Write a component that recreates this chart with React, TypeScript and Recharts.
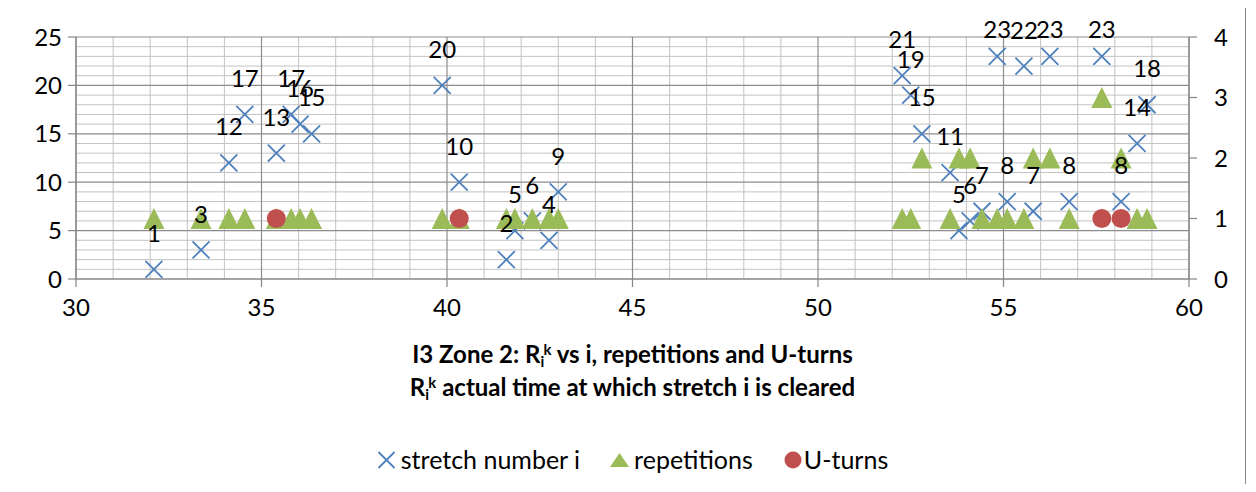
import React from 'react';
import { ScatterChart, Scatter, XAxis, YAxis, CartesianGrid, Legend } from 'recharts';

// time at which each stretch is cleared (x)
const times = [
  32.1, 33.37, 34.12, 34.55, 35.4, 35.8, 36.04, 36.35,
  39.87, 40.33, 41.6, 41.83, 42.3, 42.75, 43.0,
  52.27, 52.5, 52.8, 53.56, 53.8, 54.1, 54.42, 54.83, 55.1, 55.55, 55.8, 56.25, 56.77, 57.65, 58.17, 58.6, 58.87,
];
// stretch number i (left axis, also the data label)
const stretchNumbers = [
  1, 3, 12, 17, 13, 17, 16, 15,
  20, 10, 2, 5, 6, 4, 9,
  21, 19, 15, 11, 5, 6, 7, 23, 8, 22, 7, 23, 8, 23, 8, 14, 18,
];
// repetitions (right axis)
const repetitions = [
  1, 1, 1, 1, 1, 1, 1, 1,
  1, 1, 1, 1, 1, 1, 1,
  1, 1, 2, 1, 2, 2, 1, 1, 1, 1, 2, 2, 1, 3, 2, 1, 1,
];
// U-turns (right axis)
const uTurnTimes = [35.4, 40.33, 57.65, 58.17];
const uTurnValues = [1, 1, 1, 1];

const xTicks = [30, 35, 40, 45, 50, 55, 60];
const leftTicks = [0, 5, 10, 15, 20, 25];
const rightTicks = [0, 1, 2, 3, 4];
const minorX = [31, 32, 33, 34, 36, 37, 38, 39, 41, 42, 43, 44, 46, 47, 48, 49, 51, 52, 53, 54, 56, 57, 58, 59];
const minorY = [1, 2, 3, 4, 6, 7, 8, 9, 11, 12, 13, 14, 16, 17, 18, 19, 21, 22, 23, 24];

const stretchData = times.map((t, i) => ({ x: t, y: stretchNumbers[i] }));
const repData = times.map((t, i) => ({ x: t, y: repetitions[i] }));
const uTurnData = uTurnTimes.map((t, i) => ({ x: t, y: uTurnValues[i] }));

const BLUE = '#4F81BD';
const GREEN = '#9BBB59';
const RED = '#C0504D';
const FONT = 'Lato, "Open Sans", sans-serif';
const FS = 24;

const CrossShape = (props: any) => {
  const { cx, cy } = props;
  const h = 8.5;
  return (
    <path
      d={`M${cx - h},${cy - h}L${cx + h},${cy + h}M${cx + h},${cy - h}L${cx - h},${cy + h}`}
      stroke={BLUE}
      strokeWidth={1.8}
      fill="none"
    />
  );
};

const TriangleShape = (props: any) => {
  const { cx, cy } = props;
  const h = 10.5;
  return <path d={`M${cx},${cy - h}L${cx + h},${cy + h}L${cx - h},${cy + h}Z`} fill={GREEN} />;
};

const CircleShape = (props: any) => {
  const { cx, cy } = props;
  return <circle cx={cx} cy={cy} r={9.5} fill={RED} />;
};

const LabelShape = (props: any) => {
  const { cx, cy, payload } = props;
  // labels sit above the marker, kept inside the chart box near the top edge
  const ly = Math.max(cy - 36, 21);
  return (
    <text x={cx} y={ly} dy="0.36em" textAnchor="middle" fontSize={FS} fontFamily={FONT} fill="#000">
      {payload.y}
    </text>
  );
};

const LegendContent = () => (
  <div
    style={{
      display: 'flex',
      justifyContent: 'center',
      alignItems: 'center',
      fontFamily: FONT,
      fontSize: 25,
      lineHeight: '29px',
      color: '#000',
    }}
  >
    <svg width={19} height={18} style={{ marginRight: 5 }}>
      <path d="M1.5,1L17.5,17M17.5,1L1.5,17" stroke={BLUE} strokeWidth={1.8} fill="none" />
    </svg>
    <span style={{ marginRight: 30 }}>stretch number i</span>
    <svg width={19} height={16} style={{ marginRight: 5 }}>
      <path d="M9.5,1L19,15L0,15Z" fill={GREEN} />
    </svg>
    <span style={{ marginRight: 31 }}>repetitions</span>
    <svg width={18} height={18} style={{ marginRight: 2 }}>
      <circle cx={9} cy={9} r={8.5} fill={RED} />
    </svg>
    <span>U-turns</span>
  </div>
);

const sub: React.CSSProperties = { fontSize: '0.62em', position: 'relative', top: '0.3em' };
const sup: React.CSSProperties = { fontSize: '0.62em', position: 'relative', top: '-0.55em' };

export default function App() {
  const axisColor = '#868686';
  const tickStyle = { fill: '#000', fontSize: FS, fontFamily: FONT };
  return (
    <div
      style={{
        position: 'relative',
        width: 1237,
        height: 476,
        marginLeft: -1,
        marginTop: -1,
        borderTop: '1px solid #898989',
        borderLeft: '1px solid #898989',
        borderRight: '1px solid #898989',
        background: '#fff',
      }}
    >
      <ScatterChart
        width={1237}
        height={476}
        margin={{ top: 29, right: 0, bottom: 175, left: 0 }}
        style={{ fontFamily: FONT }}
      >
        <CartesianGrid
          yAxisId="left"
          verticalValues={minorX}
          horizontalValues={minorY}
          stroke="#c3c3c3"
          strokeWidth={1}
          fill="none"
        />
        <CartesianGrid
          yAxisId="left"
          verticalValues={xTicks}
          horizontalValues={leftTicks}
          stroke="#8c8c8c"
          strokeWidth={1.2}
          fill="none"
        />
        <XAxis
          type="number"
          dataKey="x"
          domain={[30, 60]}
          ticks={xTicks}
          interval={0}
          height={30}
          axisLine={{ stroke: axisColor, strokeWidth: 1.2 }}
          tickLine={{ stroke: axisColor, strokeWidth: 1.2 }}
          tickSize={8}
          tickMargin={12}
          tick={tickStyle}
        />
        <YAxis
          yAxisId="left"
          type="number"
          dataKey="y"
          domain={[0, 25]}
          ticks={leftTicks}
          interval={0}
          width={68}
          axisLine={{ stroke: axisColor, strokeWidth: 1.2 }}
          tickLine={{ stroke: axisColor, strokeWidth: 1.2 }}
          tickSize={8}
          tickMargin={6}
          tick={tickStyle}
        />
        <YAxis
          yAxisId="right"
          orientation="right"
          type="number"
          dataKey="y"
          domain={[0, 4]}
          ticks={rightTicks}
          interval={0}
          width={56}
          axisLine={{ stroke: axisColor, strokeWidth: 1.2 }}
          tickLine={{ stroke: axisColor, strokeWidth: 1.2 }}
          tickSize={8}
          tickMargin={17}
          tick={tickStyle}
        />
        <Scatter
          name="stretch number i"
          yAxisId="left"
          data={stretchData}
          shape={CrossShape}
          isAnimationActive={false}
        />
        <Scatter
          name="repetitions"
          yAxisId="right"
          data={repData}
          shape={TriangleShape}
          isAnimationActive={false}
        />
        <Scatter
          name="U-turns"
          yAxisId="right"
          data={uTurnData}
          shape={CircleShape}
          isAnimationActive={false}
        />
        <Scatter
          name="labels"
          yAxisId="left"
          data={stretchData}
          shape={LabelShape}
          legendType="none"
          isAnimationActive={false}
        />
        <Legend
          layout="horizontal"
          verticalAlign="middle"
          align="center"
          wrapperStyle={{ top: 437, left: 68, width: 1113 }}
          content={() => <LegendContent />}
        />
      </ScatterChart>
      <div
        style={{
          position: 'absolute',
          top: 331,
          left: 68,
          width: 1113,
          textAlign: 'center',
          fontFamily: FONT,
          fontWeight: 'bold',
          fontSize: 24,
          lineHeight: '30px',
          color: '#000',
        }}
      >
        <div>
          I3 Zone 2: R<span style={sub}>i</span>
          <span style={{ ...sup, marginLeft: '-0.05em' }}>k</span> vs i, repetitions and U-turns
        </div>
        <div>
          R<span style={sub}>i</span>
          <span style={{ ...sup, marginLeft: '-0.05em' }}>k</span> actual time at which stretch i is cleared
        </div>
      </div>
    </div>
  );
}
